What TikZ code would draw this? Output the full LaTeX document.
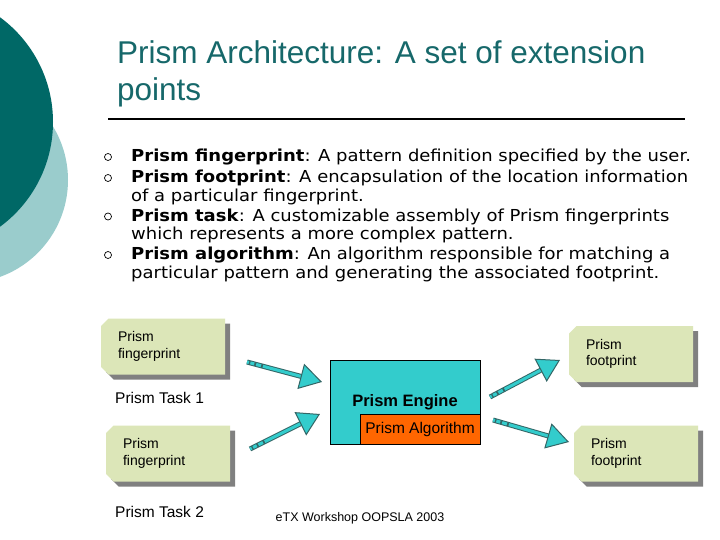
\documentclass[tikz,border=0pt]{standalone}
\usepackage{fontspec}
\setmainfont{Liberation Sans}
\newfontfamily\bodyfont[FakeStretch=1.09]{DejaVu Sans}
\usepackage{tikz}
\usetikzlibrary{shapes.misc,shadows,arrows.meta,positioning}
\definecolor{prismdark}{HTML}{006866}
\definecolor{prismlight}{HTML}{9ACCCC}
\definecolor{prismtitle}{HTML}{16686A}
\definecolor{prismgreen}{HTML}{DCE6B8}
\definecolor{prismshadow}{HTML}{808080}
\definecolor{prismengine}{HTML}{33CCCC}
\definecolor{prismorange}{HTML}{FF6600}
\definecolor{prismedge}{HTML}{336666}
\tikzset{
  fprint/.style={chamfered rectangle, chamfered rectangle corners={north west,south west}, chamfered rectangle xsep=4pt, fill=prismgreen, minimum height=56pt, text width=90pt, inner xsep=13pt, align=left, drop shadow={shadow xshift=5pt, shadow yshift=-5pt, fill=prismshadow, opacity=1}, font=\fontsize{14}{16.5}\selectfont},
  engine/.style={rectangle, draw=black, fill=prismengine, minimum width=150pt, minimum height=84pt, font=\bfseries\fontsize{16.5}{18}\selectfont},
  algo/.style={rectangle, draw=black, fill=prismorange, minimum width=120pt, minimum height=30pt, font=\fontsize{15.5}{18}\selectfont},
  tasklabel/.style={anchor=base west, inner sep=0pt, font=\fontsize{15.5}{18}\selectfont},
  item/.style={anchor=base west, inner sep=0pt, align=left, font=\bodyfont\fontsize{16.5}{18.5}\selectfont},
  bulletmark/.style={circle, draw=black, line width=0.7pt, inner sep=0pt, minimum size=7pt},
  flow/.style={-{Triangle[length=22pt, width=26pt, fill=prismengine, color=prismedge, line width=1pt]}, draw=prismengine, line width=3pt, dash pattern=on 2pt off 1.5pt on 4pt off 2pt on 5pt off 2pt on 300pt, preaction={draw=prismedge, line width=5pt, -, shorten >=12pt}},
}
\begin{document}
\begin{tikzpicture}[x=1pt, y=-1pt]
  \useasboundingbox[fill=white] (0,0) rectangle (720,540);
  % background circles
  \fill[prismlight] (-35,180) circle[radius=103pt];
  \fill[prismdark] (-77,122) circle[radius=130pt];
  % title
  \node[anchor=base west, inner sep=0pt, align=left, text=prismtitle, font=\fontsize{31.5}{37}\selectfont] (title) at (117,101) {Prism Architecture: A set of extension\\points};
  \draw[line width=1.5pt] (108,119) -- (685,119);
  % definitions (base = last line)
  \node[item] (itfp) at (131,162) {\textbf{Prism fingerprint}: A pattern definition specified by the user.};
  \node[item] (itft) at (131,201.5) {\textbf{Prism footprint}: A encapsulation of the location information\\of a particular fingerprint.};
  \node[item] (itts) at (131,240) {\textbf{Prism task}: A customizable assembly of Prism fingerprints\\which represents a more complex pattern.};
  \node[item] (ital) at (131,278) {\textbf{Prism algorithm}: An algorithm responsible for matching a\\particular pattern and generating the associated footprint.};
  \node[bulletmark] (bul1) at (108,157) {};
  \node[bulletmark] (bul2) at (108,178) {};
  \node[bulletmark] (bul3) at (108,216.5) {};
  \node[bulletmark] (bul4) at (108,255) {};
  % tasks
  \node[fprint] (fing1) at (163,346.5) {Prism\\fingerprint};
  \node[tasklabel] (task1) at (115,403) {Prism Task 1};
  \node[fprint] (fing2) at (168,453.5) {Prism\\fingerprint};
  \node[tasklabel] (task2) at (115,517) {Prism Task 2};
  % engine
  \node[engine] (engine) at (405,402) {\raisebox{-3pt}{Prism Engine}};
  \node[algo, anchor=south east] (algo) at (engine.south east) {Prism Algorithm};
  % footprints
  \node[fprint] (foot1) at (631,354) {Prism\\footprint};
  \node[fprint] (foot2) at (636,453.5) {Prism\\footprint};
  % arrows
  \coordinate (in1) at (247,362);
  \coordinate (in1end) at (322,382);
  \coordinate (in2) at (250,449);
  \coordinate (in2end) at (320,414);
  \coordinate (out1) at (490,397);
  \coordinate (out1end) at (560,360);
  \coordinate (out2) at (493,420);
  \coordinate (out2end) at (569,442);
  \draw[flow] (in1)--(in1end);
  \draw[flow] (in2)--(in2end);
  \draw[flow] (out1)--(out1end);
  \draw[flow] (out2)--(out2end);
  \node[inner sep=0pt, anchor=base, font=\fontsize{12.5}{14}\selectfont] (footer) at (360,521) {eTX Workshop OOPSLA 2003};
\end{tikzpicture}
\end{document}
